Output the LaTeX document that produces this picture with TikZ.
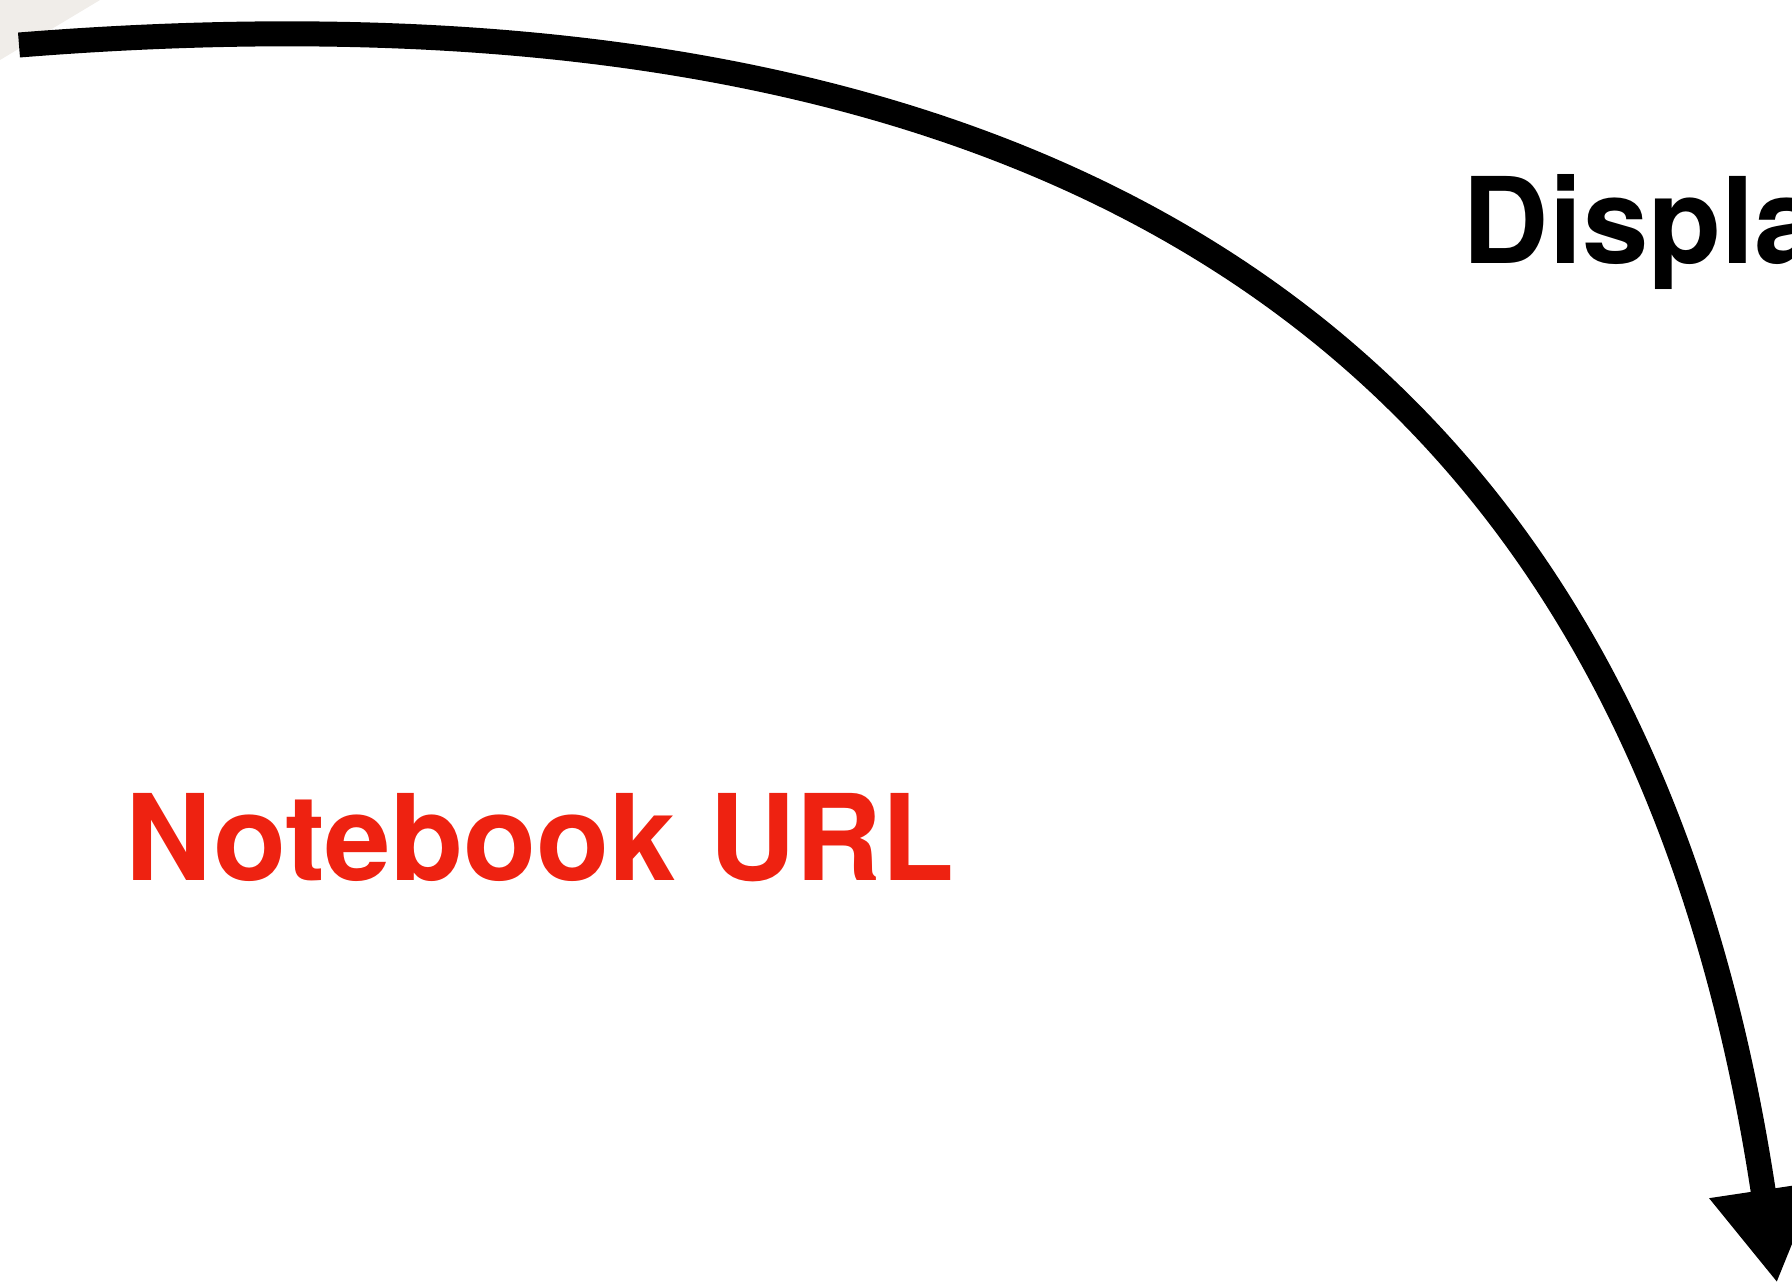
\documentclass[tikz,border=0pt]{standalone}
\usepackage{fontspec}
\setmainfont{TeX Gyre Heros}
\usetikzlibrary{arrows.meta}
\definecolor{urlred}{RGB}{238,34,17}
\definecolor{paneshade}{RGB}{240,237,233}
\begin{document}
\begin{tikzpicture}[
  x=0.1mm, y=-0.1mm,
  lbl/.style={anchor=base west, inner sep=0pt, font=\bfseries\fontsize{34}{40}\selectfont},
  flow/.style={line width=2.5mm, -{Triangle[length=9.4mm, width=10.2mm]}}
]
\useasboundingbox (0,0) rectangle (1792,1283);
\clip (0,0) rectangle (1792,1283);
\fill[paneshade] (0,0) -- (100,0) -- (0,60) -- cycle;
\coordinate (src) at (19,45);
\coordinate (dst) at (1777,1283);
\draw[flow] (src) .. controls (1219,-51) and (1657,483) .. (dst);
\node[lbl] (display) at (1462,263) {Display};
\node[lbl, text=urlred] (nburl) at (125,880) {Notebook URL};
\end{tikzpicture}
\end{document}
